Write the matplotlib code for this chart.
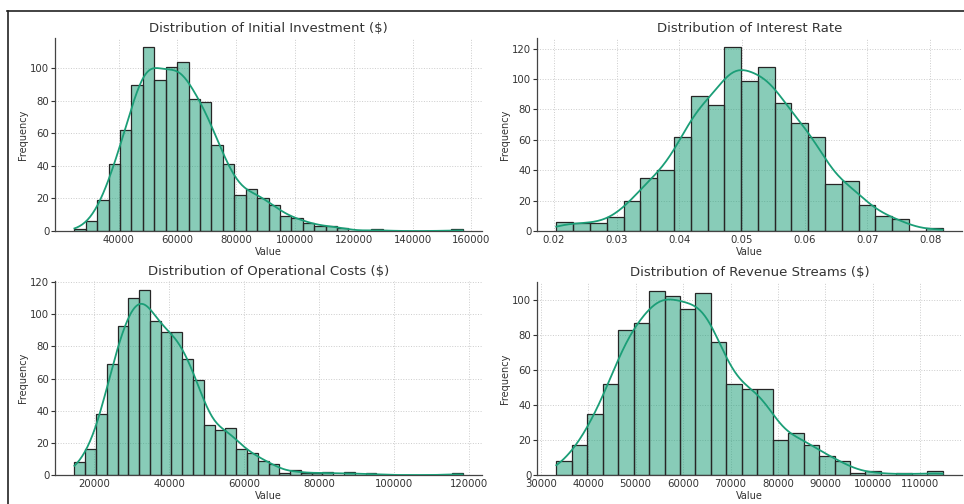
import numpy as np
import matplotlib
matplotlib.use("Agg")
import matplotlib.pyplot as plt
from matplotlib.lines import Line2D

# histogram counts (1000 samples per panel)
invest_range = (25000, 157000)
invest_counts = [1, 6, 19, 41, 62, 90, 113, 93, 101, 104, 81, 79, 53, 41, 22, 26, 20,
                 16, 9, 8, 5, 3, 3, 2, 0, 0, 1, 0, 0, 0, 0, 0, 0, 1]

rate_range = (0.0204, 0.0820)
rate_counts = [6, 5, 5, 9, 20, 35, 40, 62, 89, 83, 121, 99, 108, 84, 71, 62, 31, 33,
               17, 10, 8, 0, 2]

cost_range = (14700, 118200)
cost_counts = [8, 16, 38, 69, 93, 110, 115, 96, 89, 89, 72, 59, 31, 28, 29, 16, 14, 9,
               7, 1, 3, 1, 1, 2, 0, 2, 0, 1, 0, 0, 0, 0, 0, 0, 0, 1]

rev_range = (33300, 114700)
rev_counts = [8, 17, 35, 52, 83, 87, 105, 102, 95, 104, 76, 52, 49, 49, 20, 24, 17, 11,
              8, 1, 2, 0, 1, 0, 2]

titles = ["Distribution of Initial Investment ($)", "Distribution of Interest Rate",
          "Distribution of Operational Costs ($)", "Distribution of Revenue Streams ($)"]
yticks = [range(0, 101, 20), range(0, 121, 20), range(0, 121, 20), range(0, 101, 20)]
xticks = [range(40000, 160001, 20000), np.arange(0.02, 0.0801, 0.01),
          range(20000, 120001, 20000), range(30000, 110001, 10000)]
xfmt = ["{:.0f}", "{:.2f}", "{:.0f}", "{:.0f}"]

GREEN = "#1b9e77"

def draw(ax, rng, counts, title, yt, xt, fmt):
    counts = np.array(counts, dtype=float)
    edges = np.linspace(rng[0], rng[1], len(counts) + 1)
    w = edges[1] - edges[0]
    ax.bar(edges[:-1], counts, width=w, align="edge", color=GREEN, alpha=0.52,
           edgecolor="none", zorder=2)
    ax.bar(edges[:-1], counts, width=w, align="edge", fill=False,
           edgecolor="#262626", linewidth=0.9, zorder=3)
    # smoothed curve from the binned data (scott bandwidth)
    centers = (edges[:-1] + edges[1:]) / 2
    n = counts.sum()
    mean = (counts * centers).sum() / n
    std = np.sqrt((counts * (centers - mean) ** 2).sum() / n)
    h = std * n ** (-0.2)
    xs = np.linspace(rng[0], rng[1], 300)
    dens = (counts[None, :] * np.exp(-0.5 * ((xs[:, None] - centers[None, :]) / h) ** 2)).sum(1)
    dens = dens / (np.sqrt(2 * np.pi) * h) * w
    ax.plot(xs, dens, color=GREEN, lw=1.3, zorder=4)

    ax.set_title(title, fontsize=9.5, color="#333333", pad=4)
    ax.set_xlabel("Value", fontsize=7, color="#333333", labelpad=1)
    ax.set_ylabel("Frequency", fontsize=7, color="#333333", labelpad=2)
    ax.set_yticks(list(yt))
    ax.set_xticks(list(xt))
    ax.set_xticklabels([fmt.format(v) for v in xt])
    ax.tick_params(axis="both", labelsize=7.3, colors="#333333", length=3, width=0.8, pad=1)
    ax.tick_params(axis="x", length=0, pad=3)
    ax.grid(True, linestyle=":", color="#cccccc", lw=0.7, zorder=0)
    ax.set_axisbelow(True)
    for s in ["top", "right"]:
        ax.spines[s].set_visible(False)
    for s in ["left", "bottom"]:
        ax.spines[s].set_color("#444444")
        ax.spines[s].set_linewidth(0.9)

fig = plt.figure(figsize=(9.64, 5.04), dpi=100)
W, H = 964, 504
boxes = [(55, 482, 38, 231), (537, 962, 38, 231), (55, 482, 281, 475), (537, 962, 282, 475)]
data = [(invest_range, invest_counts), (rate_range, rate_counts),
        (cost_range, cost_counts), (rev_range, rev_counts)]

for i, (x0, x1, y0, y1) in enumerate(boxes):
    ax = fig.add_axes([x0 / W, 1 - y1 / H, (x1 - x0) / W, (y1 - y0) / H])
    draw(ax, data[i][0], data[i][1], titles[i], yticks[i], xticks[i], xfmt[i])

# screenshot frame
fig.add_artist(Line2D([7 / W, 1], [1 - 11 / H, 1 - 11 / H], color="#222222", lw=1.2))
fig.add_artist(Line2D([8 / W, 8 / W], [0, 1 - 11 / H], color="#222222", lw=1.2))

fig.savefig("out.png", dpi=100)
